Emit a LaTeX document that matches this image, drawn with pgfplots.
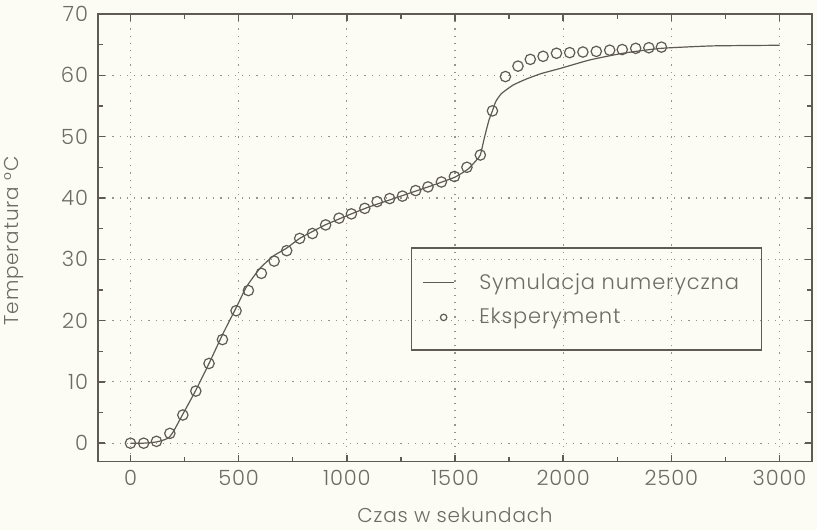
\documentclass[border=0pt]{standalone}
\usepackage{pgfplots}
\pgfplotsset{compat=1.18}
\usepackage{fontspec}
\setmainfont{Poppins}[UprightFont=* Light, LetterSpace=4]
\usetikzlibrary{backgrounds}

\definecolor{bg}{RGB}{252,251,244}
\definecolor{ink}{RGB}{95,90,85}
\definecolor{txt}{RGB}{110,107,103}
\definecolor{gridc}{RGB}{150,146,140}

\begin{document}
\begin{tikzpicture}
  \begin{axis}[
    scale only axis,
    width=357pt,
    height=223.8pt,
    xmin=-150, xmax=3150,
    ymin=-3, ymax=70,
    xtick={0,500,...,3000},
    ytick={0,10,...,70},
    minor x tick num=1,
    minor y tick num=1,
    major tick length=3.5pt,
    minor tick length=2.5pt,
    axis line style={ink, line width=0.8pt},
    every tick/.style={ink, line width=0.7pt},
    grid=major,
    major grid style={gridc, line width=0.6pt, dash pattern=on 0.6pt off 3pt},
    tick label style={txt, font=\fontsize{10.5}{12}\selectfont},
    /pgf/number format/assume math mode=true,
    /pgf/number format/1000 sep={},
    xticklabel style={yshift=-1pt},
    yticklabel style={xshift=-1.5pt},
    label style={txt, font=\fontsize{10}{12}\selectfont},
    xlabel={Czas w sekundach},
    ylabel={Temperatura °C},
    xlabel style={at={(axis description cs:0.5,-0.137)}, anchor=base},
    ylabel style={at={(axis description cs:-0.112,0.493)}, anchor=base},
    legend style={draw=none, fill=none, at={(axis description cs:0.4533,0.361)},
      anchor=west, inner xsep=0pt, inner ysep=0pt, row sep=4pt,
      font=\fontsize{10.5}{12}\selectfont, text=txt,
      nodes={inner xsep=6pt}},
    legend cell align=left,
  ]
  \coordinate (bbsw) at (rel axis cs:-0.1373,-0.1526);
  \coordinate (bbne) at (rel axis cs:1.007,1.0313);
  \draw[ink, line width=0.6pt] (rel axis cs:0.439,0.2495) rectangle (rel axis cs:0.9296,0.477);

  \addplot[ink, line width=0.6pt, no marks, smooth, tension=0.3,
    legend image code/.code={\draw[ink, line width=0.6pt] (0pt,0pt) -- (15.5pt,0pt);}]
  coordinates {
    (0,0) (60,0) (120,0.2) (160,0.6) (180,1.0) (200,2.0) (240,4.6)
    (300,8.5) (363,13) (428,17.9) (490,22.2) (536,25.5) (598,28.5)
    (659,30.5) (721,31.8) (782,33.4) (840,34.5) (900,35.6) (1000,37.1)
    (1100,38.5) (1200,39.7) (1300,40.9) (1400,42.1) (1500,43.4)
    (1560,44.7) (1600,46.2) (1617,47) (1637,50) (1657,52.7) (1673,54.2)
    (1688,55.7) (1714,57) (1768,58.4) (1830,59.4) (1900,60.3)
    (1984,61.1) (2122,62.5) (2276,63.6) (2452,64.4) (2692,64.8) (3000,64.9)
  };
  \addlegendentry{\hspace{6.5pt}Symulacja numeryczna}

  \addplot[ink, line width=0.6pt, only marks, mark=o, mark size=2.6pt,
    legend image code/.code={\draw[ink, line width=0.6pt] (10.5pt,0pt) circle (1.6pt);}]
  coordinates {
    (0,0) (61,0) (120,0.3) (182,1.6) (242,4.6) (302,8.5) (363,13)
    (425,16.9) (488,21.6) (545,24.9) (605,27.7) (664,29.7) (722,31.4)
    (782,33.4) (841,34.2) (902,35.6) (964,36.7) (1021,37.4) (1083,38.3)
    (1140,39.4) (1198,39.9) (1257,40.3) (1318,41.2) (1375,41.8)
    (1437,42.6) (1497,43.5) (1555,45.0) (1617,47.0) (1673,54.2)
    (1733,59.8) (1791,61.5) (1848,62.6) (1907,63.1) (1969,63.6)
    (2030,63.7) (2091,63.8) (2153,63.9) (2215,64.1) (2273,64.2)
    (2335,64.4) (2396,64.5) (2454,64.6)
  };
  \addlegendentry{\hspace{6.5pt}Eksperyment}
  \end{axis}
  \pgfresetboundingbox
  \path[use as bounding box] (bbsw) rectangle (bbne);
  \begin{pgfonlayer}{background}
    \fill[bg] (bbsw) rectangle (bbne);
  \end{pgfonlayer}
\end{tikzpicture}
\end{document}
